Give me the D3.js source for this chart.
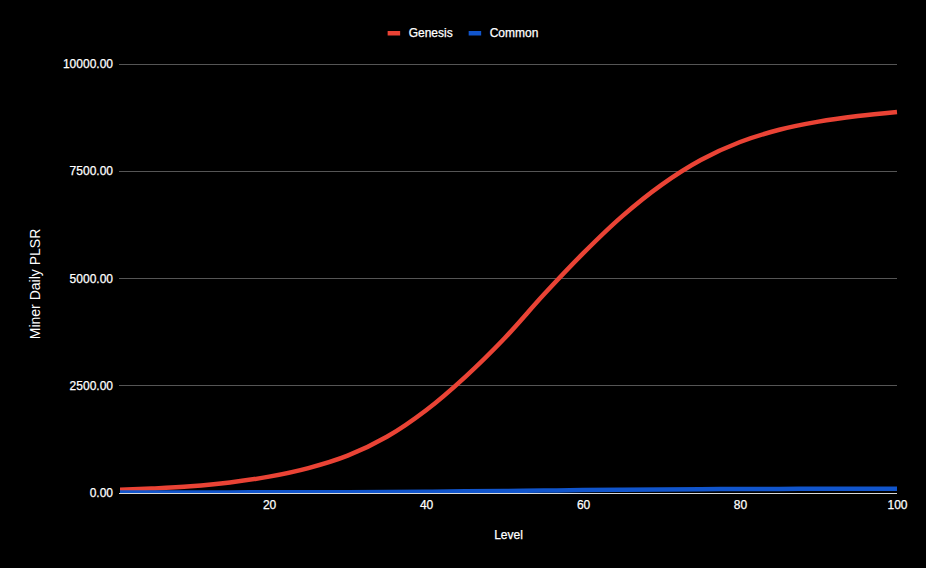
<!DOCTYPE html>
<html>
<head>
<meta charset="utf-8">
<script src="https://cdn.jsdelivr.net/npm/d3@7"></script>
<style>
html, body { margin: 0; padding: 0; background: #000; }
svg { display: block; }
text { font-family: "Liberation Sans", Arial, sans-serif; }
</style>
</head>
<body>
<svg id="chart" width="926" height="568"></svg>
<script>
// ---- data ----
const levels = [1, 5, 10, 15, 20, 25, 30, 35, 40, 45, 50, 55, 60, 65, 70, 75, 80, 85, 90, 95, 100];
const genesis = [62, 92, 145, 235, 370, 570, 860, 1300, 1920, 2700, 3600, 4620, 5580, 6450, 7180, 7760, 8180, 8465, 8655, 8785, 8880];
const common = [0.6, 0.9, 1.5, 2.4, 3.7, 5.7, 8.6, 13, 19, 27, 36, 46, 56, 64.5, 71.8, 77.6, 81.8, 84.6, 86.6, 87.8, 88.8];
const seriesNames = ["Genesis", "Common"];
const seriesColors = ["#ea4335", "#1155cc"];
const yTicks = [0, 2500, 5000, 7500, 10000];
const xTicks = [20, 40, 60, 80, 100];
const xTitle = "Level";
const yTitle = "Miner Daily PLSR";

// ---- layout ----
const W = 926, H = 568;
const pLeft = 120, pRight = 897, pTop = 64, pBottom = 492.5;

const svg = d3.select("#chart");
svg.append("rect").attr("width", W).attr("height", H).attr("fill", "#000");

const x = d3.scaleLinear().domain([1, 100]).range([pLeft, pRight]);
const y = d3.scaleLinear().domain([0, 10000]).range([pBottom, pTop]);

// gridlines
const grid = svg.append("g");
grid.selectAll("line").data(yTicks.filter(d => d !== 0)).join("line")
  .attr("x1", pLeft - 1).attr("x2", pRight)
  .attr("y1", d => Math.round(y(d)) + 0.5).attr("y2", d => Math.round(y(d)) + 0.5)
  .attr("stroke", "#555").attr("stroke-width", 1);

// baseline
svg.append("line")
  .attr("x1", pLeft - 1).attr("x2", pRight)
  .attr("y1", Math.round(y(0)) + 0.5).attr("y2", Math.round(y(0)) + 0.5)
  .attr("stroke", "#d9d9d9").attr("stroke-width", 1);

const fontFam = "'Liberation Sans', Arial, sans-serif";

// y axis labels
const yAxis = d3.axisLeft(y).tickValues(yTicks).tickFormat(d3.format(".2f")).tickSize(0).tickPadding(0);
const gy = svg.append("g").attr("transform", `translate(${pLeft - 7},0)`).call(yAxis);
gy.select(".domain").remove();
gy.selectAll("text").attr("fill", "#fff").attr("font-size", 12).attr("font-family", fontFam)
  .attr("stroke", "#fff").attr("stroke-width", 0.25);

// x axis labels
const xAxis = d3.axisBottom(x).tickValues(xTicks).tickFormat(d3.format("d")).tickSize(0).tickPadding(0);
const gx = svg.append("g").attr("transform", `translate(0,${pBottom + 8})`).call(xAxis);
gx.select(".domain").remove();
gx.selectAll("text").attr("fill", "#fff").attr("font-size", 12).attr("font-family", fontFam)
  .attr("stroke", "#fff").attr("stroke-width", 0.25);

// clip
svg.append("clipPath").attr("id", "plotclip").append("rect")
  .attr("x", pLeft).attr("y", pTop - 10).attr("width", pRight - pLeft + 1).attr("height", pBottom + 0.5 - (pTop - 10));

const line = d3.line().x(d => x(d[0])).y(d => y(d[1])).curve(d3.curveCatmullRom.alpha(0.5));
const seriesData = [genesis, common];
const plot = svg.append("g").attr("clip-path", "url(#plotclip)");
seriesData.forEach((vals, i) => {
  plot.append("path")
    .datum(levels.map((l, j) => [l, vals[j]]))
    .attr("d", line)
    .attr("fill", "none")
    .attr("stroke", seriesColors[i])
    .attr("stroke-width", 4.5)
    .attr("stroke-linejoin", "round");
});

// titles
svg.append("text").attr("x", (pLeft + pRight) / 2).attr("y", 539)
  .attr("text-anchor", "middle").attr("fill", "#fff").attr("font-size", 12)
  .attr("stroke", "#fff").attr("stroke-width", 0.25).text(xTitle);
svg.append("text").attr("transform", "translate(40,284) rotate(-90)")
  .attr("text-anchor", "middle").attr("fill", "#fff").attr("font-size", 14).text(yTitle);

// legend
const lg = svg.append("g");
let cx = 0;
seriesNames.forEach((name, i) => {
  const g = lg.append("g").attr("transform", `translate(${cx},0)`);
  g.append("rect").attr("x", 0).attr("y", 31).attr("width", 12.5).attr("height", 4.5).attr("fill", seriesColors[i]);
  const t = g.append("text").attr("x", 21).attr("y", 37).attr("fill", "#fff").attr("font-size", 12)
    .attr("stroke", "#fff").attr("stroke-width", 0.25).text(name);
  const w = 21 + t.node().getComputedTextLength();
  cx += w + 16;
});
const totalW = cx - 16;
lg.attr("transform", `translate(${W / 2 - totalW / 2},0)`);
</script>
</body>
</html>
